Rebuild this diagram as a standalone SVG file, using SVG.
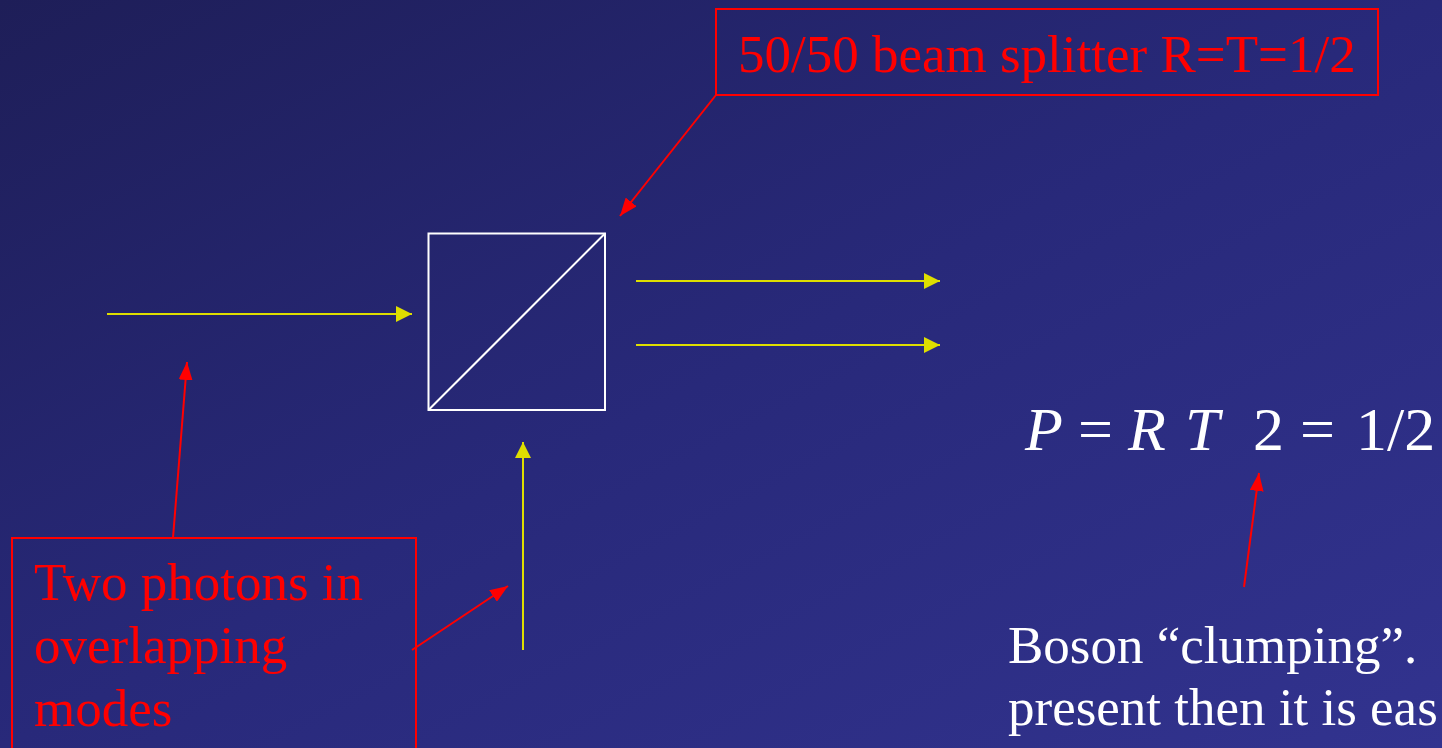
<svg xmlns="http://www.w3.org/2000/svg" width="1442" height="748" viewBox="0 0 1442 748">
<defs>
<linearGradient id="bg" x1="0" y1="0" x2="1" y2="1">
<stop offset="0" stop-color="#1e1e58"/>
<stop offset="0.5" stop-color="#28297a"/>
<stop offset="1" stop-color="#32338f"/>
</linearGradient>
<marker id="ya" viewBox="0 0 16 16" refX="16" refY="8" markerWidth="16" markerHeight="16" markerUnits="userSpaceOnUse" orient="auto">
<path d="M0,0 L16,8 L0,16 z" fill="#dede00"/>
</marker>
<marker id="ra" viewBox="0 0 18 14" refX="18" refY="7" markerWidth="18" markerHeight="14" markerUnits="userSpaceOnUse" orient="auto">
<path d="M0,0 L18,7 L0,14 z" fill="#ff0000"/>
</marker>
<style>
.red{font-family:"Liberation Serif","Times New Roman",serif;font-size:53px;fill:#ff0000}
.wh{font-family:"Liberation Serif","Times New Roman",serif;fill:#ffffff}
.box{fill:none;stroke:#ff0000;stroke-width:2}
.y{stroke:#dede00;stroke-width:2;fill:none;marker-end:url(#ya)}
.r{stroke:#ff0000;stroke-width:2;fill:none;marker-end:url(#ra)}
</style>
</defs>
<rect width="1442" height="748" fill="url(#bg)"/>
<g id="splitter">
<rect x="428.5" y="233.5" width="176.5" height="176.5" fill="none" stroke="#ffffff" stroke-width="2"/>
<line x1="428.5" y1="410" x2="605" y2="233.5" stroke="#ffffff" stroke-width="2"/>
</g>
<g id="label-top">
<rect class="box" x="716" y="9" width="662" height="86"/>
<text class="red" x="738" y="72" font-size="53">50/50 beam splitter R=T=1/2</text>
</g>
<g id="label-photons">
<rect class="box" x="12" y="538" width="404" height="220"/>
<text class="red" x="34" y="600">Two photons in</text>
<text class="red" x="34" y="663">overlapping</text>
<text class="red" x="34" y="726">modes</text>
</g>
<g id="equation" class="wh" font-size="62">
<text x="1025" y="450" font-style="italic">P</text>
<text x="1078" y="450">=</text>
<text x="1128" y="450" font-style="italic">R</text>
<text x="1185" y="450" font-style="italic">T</text>
<text x="1253" y="450">2</text>
<text x="1300" y="450">=</text>
<text x="1356" y="450">1/2</text>
</g>
<g id="note" class="wh" font-size="53">
<text x="1008" y="663">Boson “clumping”.</text>
<text x="1008" y="725">present then it is eas</text>
</g>
<g id="connectors">
<line class="y" x1="107" y1="314" x2="412" y2="314"/>
<line class="y" x1="636" y1="281" x2="940" y2="281"/>
<line class="y" x1="636" y1="345" x2="940" y2="345"/>
<line class="y" x1="523" y1="650" x2="523" y2="442"/>
<line class="r" x1="716" y1="95" x2="620" y2="216"/>
<line class="r" x1="173" y1="538" x2="187" y2="362"/>
<line class="r" x1="412" y1="650" x2="508" y2="586"/>
<line class="r" x1="1244" y1="587" x2="1259" y2="473"/>
</g>
</svg>
